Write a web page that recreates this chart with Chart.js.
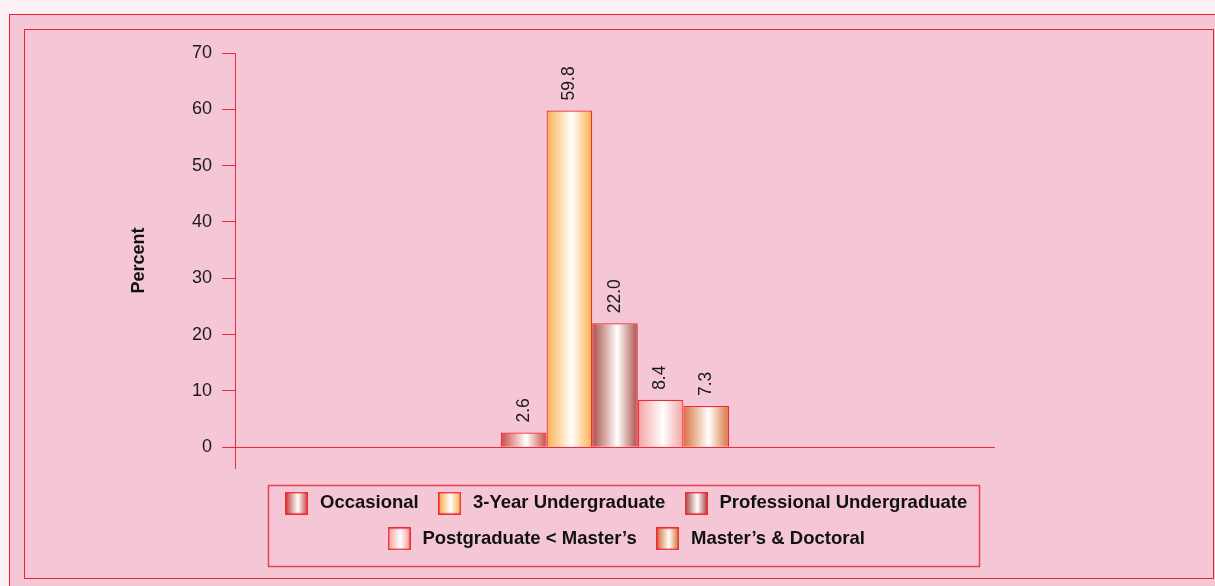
<!DOCTYPE html>
<html>
<head>
<meta charset="utf-8">
<script src="https://cdn.jsdelivr.net/npm/chart.js@4.4.1/dist/chart.umd.min.js"></script>
<style>
  html, body { margin: 0; padding: 0; }
  body { width: 1215px; height: 586px; background: #fdf1f5; position: relative; overflow: hidden; font-family: "Liberation Sans", Arial, sans-serif; }
  #outer { position: absolute; left: 9px; top: 14px; width: 1220px; height: 590px; background: #f4c6d6; border: 1px solid #ec2232; box-sizing: border-box; }
  #inner { position: absolute; left: 24px; top: 29px; width: 1190px; height: 550px; border: 1px solid #ec2232; box-sizing: border-box; }
  #c { position: absolute; left: 0; top: 0; }
</style>
</head>
<body>
<div id="outer"></div>
<div id="inner"></div>
<canvas id="c" width="1215" height="586"></canvas>
<script>
// ---- data ----
const categories = ["All"];
const seriesNames = ["Occasional", "3-Year Undergraduate", "Professional Undergraduate", "Postgraduate < Master\u2019s", "Master\u2019s & Doctoral"];
const seriesValues = [2.6, 59.8, 22.0, 8.4, 7.3];
const seriesColors = ["#c94a44", "#fcb04e", "#a94f47", "#f4a3a0", "#d8733c"];
const yTicks = [0, 10, 20, 30, 40, 50, 60, 70];
const yTitle = "Percent";

const RED = "#ef2a36";

function gradFor(ctx, x0, x1, color) {
  const g = ctx.createLinearGradient(x0, 0, x1, 0);
  g.addColorStop(0, color);
  g.addColorStop(0.55, "#ffffff");
  g.addColorStop(1, color);
  return g;
}

// legend swatches as images
const swatches = seriesColors.map(col => {
  const cv = document.createElement("canvas");
  cv.width = 23; cv.height = 23;
  const cx = cv.getContext("2d");
  cx.fillStyle = gradFor(cx, 1, 22, col);
  cx.fillRect(0, 0, 23, 23);
  cx.strokeStyle = RED;
  cx.lineWidth = 1.5;
  cx.strokeRect(0.75, 0.75, 21.5, 21.5);
  return cv;
});

const gradientPlugin = {
  id: "barGradients",
  beforeDatasetsDraw(chart) {
    const ctx = chart.ctx;
    chart.data.datasets.forEach((ds, i) => {
      const meta = chart.getDatasetMeta(i);
      meta.data.forEach(el => {
        const x0 = el.x - el.width / 2, x1 = el.x + el.width / 2;
        el.options = Object.assign({}, el.options, { backgroundColor: gradFor(ctx, x0, x1, seriesColors[i]) });
      });
    });
  }
};

const labelPlugin = {
  id: "valueLabels",
  afterDatasetsDraw(chart) {
    const ctx = chart.ctx;
    chart.data.datasets.forEach((ds, i) => {
      const meta = chart.getDatasetMeta(i);
      meta.data.forEach((el, j) => {
        ctx.save();
        ctx.translate(el.x, el.y - 10);
        ctx.rotate(-Math.PI / 2);
        ctx.font = "17.5px 'Liberation Sans', Arial, sans-serif";
        ctx.fillStyle = "#1a1a1a";
        ctx.textAlign = "left";
        ctx.textBaseline = "middle";
        ctx.fillText(ds.data[j].toFixed(1), 0, 0);
        ctx.restore();
      });
    });
  }
};

const legendShiftPlugin = {
  id: "legendShift",
  afterLayout(chart) {
    const lg = chart.legend;
    if (lg) { lg.left += 10; lg.right += 10; }
  },
  afterDraw(chart) {
    const lg = chart.legend;
    if (!lg || !lg.legendHitBoxes || !lg.legendHitBoxes.length) return;
    const hb = lg.legendHitBoxes;
    const l = Math.min(...hb.map(h => h.left)) - 15;
    const r = Math.max(...hb.map(h => h.left + h.width)) + 12;
    const t = Math.min(...hb.map(h => h.top)) - 9;
    const b = Math.max(...hb.map(h => h.top + h.height)) + 18;
    const ctx = chart.ctx;
    ctx.save();
    ctx.strokeStyle = "#f04050";
    ctx.lineWidth = 1.5;
    ctx.strokeRect(Math.round(l) + 0.5, Math.round(t) + 0.5, Math.round(r - l), Math.round(b - t));
    ctx.restore();
  }
};

new Chart(document.getElementById("c"), {
  type: "bar",
  data: {
    labels: categories,
    datasets: seriesNames.map((name, i) => ({
      label: name,
      data: [seriesValues[i]],
      backgroundColor: seriesColors[i],
      borderColor: RED,
      borderWidth: 1.2,
      categoryPercentage: 0.3,
      barPercentage: 1.0
    }))
  },
  options: {
    responsive: false,
    animation: false,
    events: [],
    layout: { padding: { left: 124, right: 220, top: 53, bottom: 28 } },
    scales: {
      x: {
        display: true,
        grid: { display: false },
        border: { display: false },
        ticks: { display: false },
        afterFit(s) { s.height = 9; }
      },
      y: {
        min: -3.7,
        max: 70,
        afterBuildTicks(s) { s.ticks = yTicks.map(v => ({ value: v })); },
        afterFit(s) { s.width = 111; },
        border: { display: true, color: RED, width: 1 },
        grid: {
          drawOnChartArea: true,
          drawTicks: true,
          tickLength: 13,
          color: c => (c.tick && c.tick.value === 0) ? RED : "rgba(0,0,0,0)",
          tickColor: RED,
          lineWidth: 1
        },
        ticks: {
          padding: 10,
          color: "#1a1a1a",
          font: { family: "'Liberation Sans', Arial, sans-serif", size: 18 },
          callback: v => String(v)
        },
        title: {
          display: true,
          text: yTitle,
          color: "#111",
          font: { family: "'Liberation Sans', Arial, sans-serif", size: 18, weight: "bold" }
        }
      }
    },
    plugins: {
      tooltip: { enabled: false },
      legend: {
        display: true,
        position: "bottom",
        fullSize: false,
        labels: {
          usePointStyle: true,
          pointStyleWidth: 28,
          padding: 17,
          color: "#111",
          font: { family: "'Liberation Sans', Arial, sans-serif", size: 18.5, weight: "bold" },
          generateLabels(chart) {
            return Chart.defaults.plugins.legend.labels.generateLabels(chart).map((l, i) => Object.assign(l, { pointStyle: swatches[i] }));
          }
        }
      }
    }
  },
  plugins: [gradientPlugin, labelPlugin, legendShiftPlugin]
});
</script>
</body>
</html>
